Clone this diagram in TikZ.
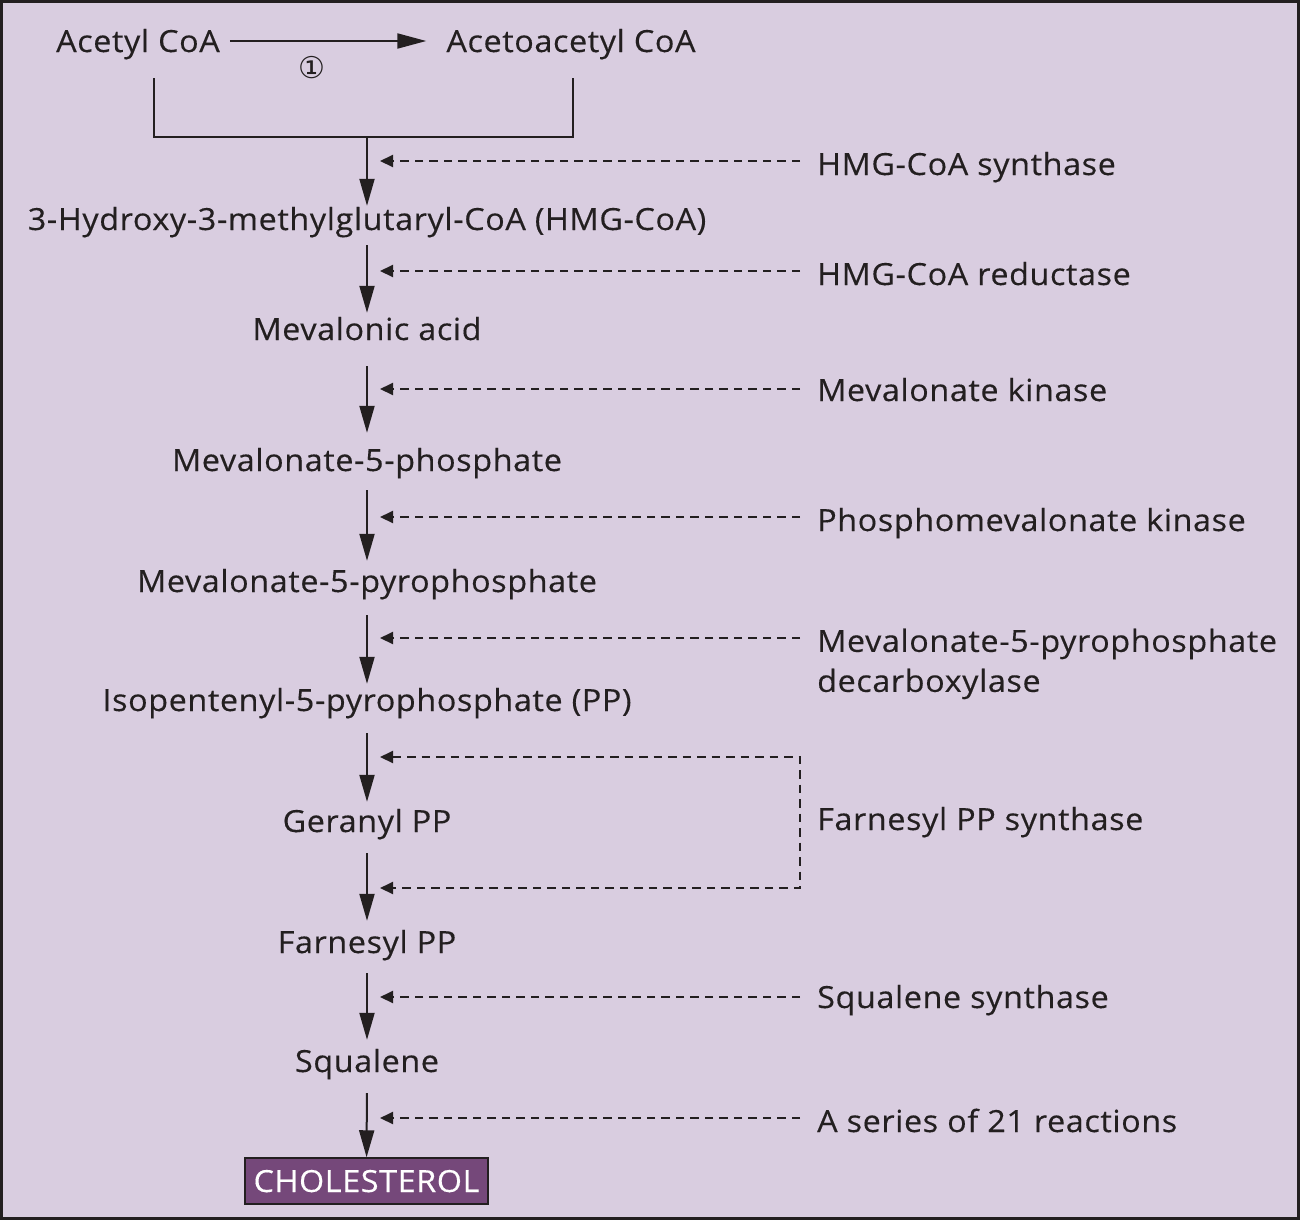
\documentclass[tikz,border=0pt]{standalone}
\usepackage{fontspec}
\setmainfont[FakeStretch=1.06, LetterSpace=2.0, FakeBold=0.3]{Open Sans}
\newfontfamily\symfont{DejaVu Sans}
\usetikzlibrary{arrows.meta}

\definecolor{panel}{RGB}{217,205,224}
\definecolor{cholfill}{RGB}{117,72,122}
\definecolor{ink}{RGB}{35,31,32}

\begin{document}
\begin{tikzpicture}[x=1pt, y=-1pt,
    every node/.style = {font=\fontsize{30.5}{40}\selectfont, text=ink, inner sep=0pt, text height=22pt, text depth=0pt},
    metab/.style = {anchor=base},
    enzyme/.style = {anchor=base west},
    endbox/.style = {draw=ink, line width=1.5pt, fill=cholfill, text=white, minimum width=243pt, minimum height=46pt},
    flow/.style = {draw=ink, line width=2pt, -{Triangle[length=27pt, width=15pt]}},
    enz/.style = {draw=ink, line width=2pt, dash pattern=on 8.5pt off 6pt, >={Triangle[length=13pt, width=12pt]}}]

    % frame
    \useasboundingbox (0,0) rectangle (1304,1221);
    \draw[ink, line width=3pt, fill=panel] (1.5,1.5) rectangle (1298.5,1218.5);

    % first step
    \node[metab] (acetyl) at (138,52) {Acetyl CoA};
    \node[metab] (aceto) at (571,52) {Acetoacetyl CoA};
    \node[text height=, text depth=, font=\symfont\fontsize{30}{30}\selectfont] (one) at (312,68) {①};
    \draw[flow, -{Triangle[length=29pt, width=15pt]}, shorten <=10pt, shorten >=20pt] (acetyl) -- (aceto);
    \draw[ink, line width=2.8pt] (154,78) |- (573,137) -- (573,78);
    \coordinate (join) at (367,137);

    % main pathway
    \node[metab] (hmg) at (367,230) {3-Hydroxy-3-methylglutaryl-CoA (HMG-CoA)};
    \node[metab] (mev) at (367,340) {Mevalonic acid};
    \node[metab] (m5p) at (367,471) {Mevalonate-5-phosphate};
    \node[metab] (m5pp) at (367,592) {Mevalonate-5-pyrophosphate};
    \node[metab] (ipp) at (367,711) {Isopentenyl-5-pyrophosphate (PP)};
    \node[metab] (ger) at (367,832) {Geranyl PP};
    \node[metab] (farn) at (367,953) {Farnesyl PP};
    \node[metab] (sq) at (367,1072) {Squalene};
    \node[endbox] (chol) at (366.5,1181) {CHOLESTEROL};

    \draw[flow, shorten >=2pt] (join) -- (hmg);
    \foreach \a/\b/\s/\e in {hmg/mev/15/5, mev/m5p/26/16, m5p/m5pp/19/9, m5pp/ipp/23/5,
        ipp/ger/22/8, ger/farn/21/10, farn/sq/20/10, sq/chol/21/0}
        \draw[flow, shorten <=\s pt, shorten >=\e pt] (\a) -- (\b);

    % enzymes
    \node[enzyme] (hmgs) at (817,175) {HMG-CoA synthase};
    \node[enzyme] (hmgr) at (817,285) {HMG-CoA reductase};
    \node[enzyme] (mk) at (817,401) {Mevalonate kinase};
    \node[enzyme] (pmk) at (817,531) {Phosphomevalonate kinase};
    \node[enzyme, anchor=north west, align=left, text height=, text depth=] (mpd) at (817,628.5) {Mevalonate-5-pyrophosphate\\decarboxylase};
    \node[enzyme] (fps) at (817,830) {Farnesyl PP synthase};
    \node[enzyme] (sqs) at (817,1008) {Squalene synthase};
    \node[enzyme] (ser) at (817,1132) {A series of 21 reactions};

    \foreach \n/\y in {hmgs/161, hmgr/271, mk/389, pmk/517, mpd/638, sqs/997, ser/1118} {
        \coordinate (\n-from) at (800,\y);
        \coordinate (\n-to) at (380,\y);
        \draw[enz, ->] (\n-from) -- (\n-to);
    }
    \coordinate (fps-top) at (380,757);
    \coordinate (fps-bot) at (380,888);
    \draw[enz, <->] (fps-top) -- ++(420,0) |- (fps-bot);
\end{tikzpicture}
\end{document}
